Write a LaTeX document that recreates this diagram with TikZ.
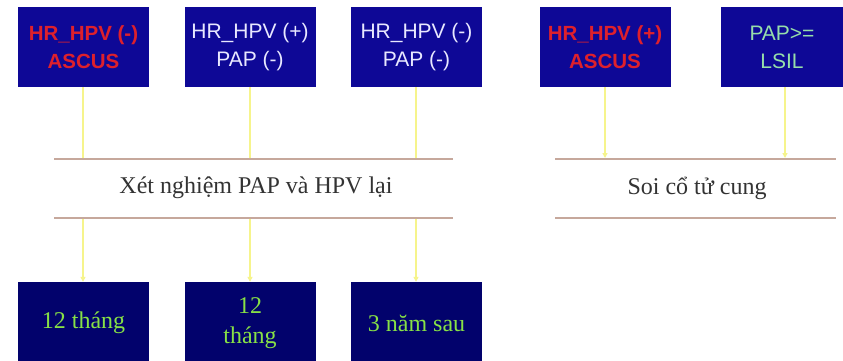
\documentclass[tikz,border=0pt]{standalone}
\usepackage{fontspec}
\setmainfont{Liberation Serif}
\newfontfamily\arialf{Liberation Sans}
\usetikzlibrary{arrows.meta}
\definecolor{topblue}{RGB}{14,8,150}
\definecolor{navyb}{RGB}{2,2,108}
\definecolor{redt}{RGB}{222,32,44}
\definecolor{whitet}{RGB}{232,232,255}
\definecolor{greent}{RGB}{150,222,170}
\definecolor{limet}{RGB}{135,225,70}
\definecolor{yline}{RGB}{246,244,140}
\definecolor{hline}{RGB}{198,168,156}
\tikzset{
  topbox/.style={fill=topblue, draw=none, minimum width=131pt, minimum height=80pt, inner sep=0pt, align=center, font=\arialf\fontsize{21}{28}\selectfont},
  botbox/.style={fill=navyb, draw=none, minimum width=131pt, minimum height=82pt, inner sep=0pt, align=center, font=\fontsize{24}{30}\selectfont, text=limet},
  conn/.style={draw=yline, line width=1.6pt, -{Triangle[length=5pt,width=5pt]}},
  plain/.style={draw=yline, line width=1.6pt},
  hl/.style={draw=hline, line width=1.8pt},
  lbl/.style={font=\fontsize{24}{28}\selectfont, text=black!80, inner sep=0pt}
}
\begin{document}
\begin{tikzpicture}[x=1pt,y=-1pt]
\useasboundingbox[fill=white] (0,0) rectangle (843,360);
% top boxes
\node[topbox, text=redt, font=\arialf\bfseries\fontsize{20.5}{28}\selectfont] (t1) at (83.5,47) {HR\_HPV (-)\\ASCUS};
\node[topbox, text=whitet] (t2) at (250,47) {HR\_HPV (+)\\PAP (-)};
\node[topbox, text=whitet] (t3) at (416.5,47) {HR\_HPV (-)\\PAP (-)};
\node[topbox, text=redt, font=\arialf\bfseries\fontsize{20.5}{28}\selectfont] (t4) at (605,47) {HR\_HPV (+)\\ASCUS};
\node[topbox, text=greent, minimum width=122pt] (t5) at (782,47) {PAP>=\\LSIL};
% horizontal lines
\coordinate (la) at (54,159); \coordinate (lb) at (453,159);
\coordinate (lc) at (54,218); \coordinate (ld) at (453,218);
\coordinate (ra) at (555,159); \coordinate (rb) at (836,159);
\coordinate (rc) at (555,218); \coordinate (rd) at (836,218);
\draw[hl] (la) -- (lb);
\draw[hl] (lc) -- (ld);
\draw[hl] (ra) -- (rb);
\draw[hl] (rc) -- (rd);
\node[lbl] (xn) at (256,188) {Xét nghiệm PAP và HPV lại};
\node[lbl] (soi) at (697,188) {Soi cổ tử cung};
% bottom boxes
\node[botbox] (b1) at (83.5,323) {12 tháng};
\node[botbox] (b2) at (250,323) {12\\tháng};
\node[botbox] (b3) at (416.5,323) {3 năm sau};
% connectors top
\coordinate (p1) at (83,158);
\coordinate (p2) at (250,158);
\coordinate (p3) at (416,158);
\coordinate (p4) at (605,158);
\coordinate (p5) at (785,158);
\draw[plain] (t1.south -| p1) -- (p1);
\draw[plain] (t2.south) -- (p2);
\draw[plain] (t3.south -| p3) -- (p3);
\draw[conn] (t4.south) -- (p4);
\draw[conn] (t5.south -| p5) -- (p5);
% connectors bottom
\coordinate (q1) at (83,219);
\coordinate (q2) at (250,219);
\coordinate (q3) at (416,219);
\draw[conn] (q1) -- (b1.north -| q1);
\draw[conn] (q2) -- (b2.north);
\draw[conn] (q3) -- (b3.north -| q3);
\end{tikzpicture}
\end{document}
